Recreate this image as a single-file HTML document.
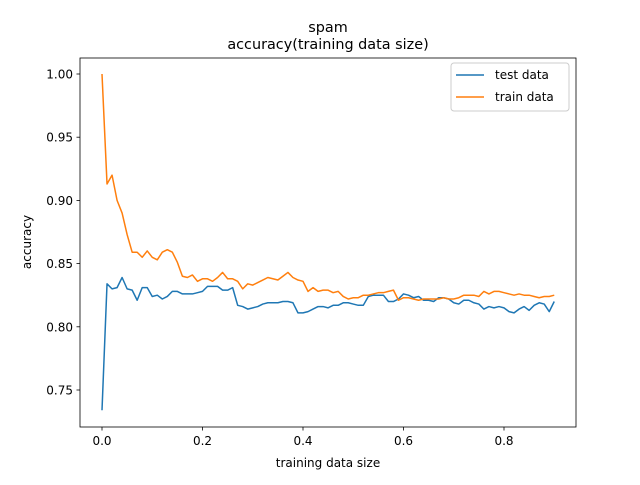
<!DOCTYPE html>
<html><head><meta charset="utf-8"><style>
body{margin:0;background:#fff;}
svg text{font-family:"DejaVu Sans","Liberation Sans",sans-serif;fill:#000;}
</style></head><body>
<svg id="chart" width="640" height="480" xmlns="http://www.w3.org/2000/svg">
<rect width="640" height="480" fill="#fff"/>
<text x="328" y="32" font-size="14.4" text-anchor="middle">spam</text>
<text x="328" y="49" font-size="14.4" text-anchor="middle">accuracy(training data size)</text>
<g id="plot"></g>
<rect x="80" y="58" width="496" height="369" fill="none" stroke="#000" stroke-width="0.8"/>
<text x="328" y="467" font-size="12" text-anchor="middle">training data size</text>
<text x="0" y="0" font-size="12" text-anchor="middle" transform="translate(31,242) rotate(-90)">accuracy</text>
<g>
<rect x="451" y="63" width="118" height="48" rx="3" fill="#fff" fill-opacity="0.8" stroke="#ccc" stroke-width="1"/>
<line x1="456" y1="75" x2="484" y2="75" stroke="#1f77b4" stroke-width="1.5"/>
<text x="495" y="79" font-size="12">test data</text>
<line x1="456" y1="97" x2="484" y2="97" stroke="#ff7f0e" stroke-width="1.5"/>
<text x="495" y="101" font-size="12">train data</text>
</g>
</svg>
<script>
const xValues = Array.from({length:91},(_,i)=>+(i*0.01).toFixed(2));
const testData = [0.734,0.834,0.830,0.831,0.839,0.830,0.829,0.821,0.831,0.831,0.824,0.825,0.822,0.824,0.828,0.828,0.826,0.826,0.826,0.827,0.828,0.832,0.832,0.832,0.829,0.829,0.831,0.817,0.816,0.814,0.815,0.816,0.818,0.819,0.819,0.819,0.820,0.820,0.819,0.811,0.811,0.812,0.814,0.816,0.816,0.815,0.817,0.817,0.819,0.819,0.818,0.817,0.817,0.824,0.825,0.825,0.825,0.820,0.820,0.822,0.826,0.825,0.823,0.824,0.821,0.821,0.820,0.823,0.823,0.822,0.819,0.818,0.821,0.821,0.819,0.818,0.814,0.816,0.815,0.816,0.815,0.812,0.811,0.814,0.816,0.813,0.817,0.819,0.818,0.812,0.820];
const trainData = [1.0,0.913,0.920,0.900,0.890,0.873,0.859,0.859,0.855,0.860,0.855,0.853,0.859,0.861,0.859,0.851,0.840,0.839,0.841,0.836,0.838,0.838,0.836,0.839,0.843,0.838,0.838,0.836,0.830,0.834,0.833,0.835,0.837,0.839,0.838,0.837,0.840,0.843,0.839,0.837,0.836,0.828,0.831,0.828,0.829,0.829,0.827,0.828,0.824,0.822,0.823,0.823,0.825,0.825,0.826,0.827,0.827,0.828,0.829,0.821,0.823,0.823,0.822,0.821,0.822,0.822,0.822,0.822,0.823,0.822,0.822,0.823,0.825,0.825,0.825,0.824,0.828,0.826,0.828,0.828,0.827,0.826,0.825,0.826,0.825,0.825,0.824,0.823,0.824,0.824,0.825];
const xTicks = [0,0.2,0.4,0.6,0.8];
const xTickLabels = ["0.0","0.2","0.4","0.6","0.8"];
const yTicks = [0.75,0.80,0.85,0.90,0.95,1.00];
const yTickLabels = ["0.75","0.80","0.85","0.90","0.95","1.00"];
const NS="http://www.w3.org/2000/svg";
function sx(v){return 102+v/0.8*402;}
function sy(v){return 74+(1-v)/0.05*63.2;}
const g=document.getElementById('plot');
function mk(t,a){const e=document.createElementNS(NS,t);for(const k in a)e.setAttribute(k,a[k]);g.appendChild(e);return e;}
xTicks.forEach((t,i)=>{
  const l=mk('line',{x1:sx(t),x2:sx(t),y1:427,y2:430.5,stroke:'#000','stroke-width':0.8});
  
  
  const tx=mk('text',{x:sx(t),y:445,'font-size':12,'text-anchor':'middle'});
  tx.textContent=xTickLabels[i];
  
  
});
yTicks.forEach((t,i)=>{
  const l=mk('line',{x1:76.5,x2:80,y1:sy(t),y2:sy(t),stroke:'#000','stroke-width':0.8});
  
  
  const tx=mk('text',{x:73,y:sy(t)+4.5,'font-size':12,'text-anchor':'end'});
  tx.textContent=yTickLabels[i];
  
  
});
function line(data,color,name){
  const p=mk('polyline',{points:data.map((v,i)=>sx(xValues[i])+','+sy(v)).join(' '),fill:'none',stroke:color,'stroke-width':1.5,'stroke-linejoin':'round'});
  
  
}
line(testData,'#1f77b4','test-data-line');
line(trainData,'#ff7f0e','train-data-line');
</script>
</body></html>
